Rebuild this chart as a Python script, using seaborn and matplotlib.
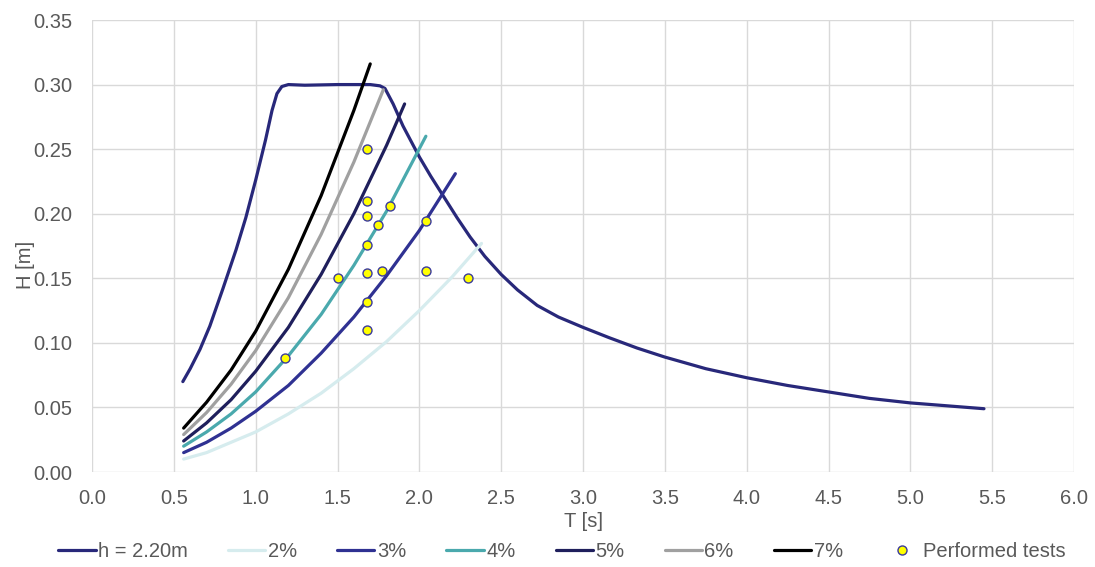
import numpy as np
import pandas as pd
import matplotlib
matplotlib.use("Agg")
import matplotlib.pyplot as plt
import seaborn as sns
from matplotlib.lines import Line2D

# ---------------- data ----------------
env_T = [0.555, 0.60, 0.66, 0.72, 0.80, 0.88, 0.94, 1.00, 1.06, 1.10, 1.13, 1.16, 1.20, 1.30,
         1.50, 1.70, 1.76, 1.79, 1.84, 1.90, 2.00, 2.07, 2.15, 2.23, 2.31, 2.40, 2.50, 2.60,
         2.72, 2.85, 3.00, 3.16, 3.33, 3.50, 3.75, 4.00, 4.25, 4.50, 4.75, 5.00, 5.25, 5.45]
env_H = [0.070, 0.080, 0.095, 0.113, 0.142, 0.172, 0.197, 0.226, 0.257, 0.280, 0.293, 0.2985,
         0.300, 0.2995, 0.300, 0.300, 0.299, 0.297, 0.285, 0.268, 0.244, 0.229, 0.213, 0.197,
         0.182, 0.167, 0.153, 0.141, 0.129, 0.120, 0.112, 0.104, 0.096, 0.089, 0.080, 0.073,
         0.067, 0.062, 0.057, 0.0535, 0.051, 0.049]

s2_T = [0.56, 0.70, 0.85, 1.00, 1.20, 1.40, 1.60, 1.80, 2.00, 2.20, 2.38]
s2_H = [0.010, 0.015, 0.023, 0.031, 0.045, 0.061, 0.080, 0.101, 0.125, 0.151, 0.177]

s3_T = [0.56, 0.70, 0.85, 1.00, 1.20, 1.40, 1.60, 1.80, 2.00, 2.22]
s3_H = [0.015, 0.023, 0.034, 0.047, 0.067, 0.092, 0.120, 0.152, 0.187, 0.231]

s4_T = [0.56, 0.70, 0.85, 1.00, 1.20, 1.40, 1.60, 1.80, 2.04]
s4_H = [0.020, 0.031, 0.045, 0.062, 0.090, 0.122, 0.160, 0.202, 0.260]

s5_T = [0.56, 0.70, 0.85, 1.00, 1.20, 1.40, 1.60, 1.80, 1.91]
s5_H = [0.024, 0.038, 0.056, 0.078, 0.112, 0.153, 0.200, 0.253, 0.285]

s6_T = [0.56, 0.70, 0.85, 1.00, 1.20, 1.40, 1.60, 1.78]
s6_H = [0.029, 0.046, 0.068, 0.094, 0.135, 0.184, 0.240, 0.296]

s7_T = [0.56, 0.70, 0.85, 1.00, 1.20, 1.40, 1.60, 1.70]
s7_H = [0.034, 0.054, 0.079, 0.109, 0.157, 0.214, 0.280, 0.316]

tests_T = [1.68, 1.68, 1.82, 1.68, 1.75, 2.04, 1.68, 1.50, 1.68, 1.77, 2.04, 2.30, 1.68, 1.68, 1.18]
tests_H = [0.250, 0.210, 0.206, 0.198, 0.191, 0.194, 0.176, 0.150, 0.154, 0.156, 0.156, 0.150,
           0.132, 0.110, 0.088]

series_labels = ["h = 2.20m", "2%", "3%", "4%", "5%", "6%", "7%"]
series_colors = ["#28287a", "#d6ecee", "#2f3192", "#4aa9ad", "#1f1f5c", "#a0a0a0", "#000000"]
tests_label = "Performed tests"

x_ticks = [0.0, 0.5, 1.0, 1.5, 2.0, 2.5, 3.0, 3.5, 4.0, 4.5, 5.0, 5.5, 6.0]
y_ticks = [0.00, 0.05, 0.10, 0.15, 0.20, 0.25, 0.30, 0.35]

# ---------------- build long table ----------------
all_T = [env_T, s2_T, s3_T, s4_T, s5_T, s6_T, s7_T]
all_H = [env_H, s2_H, s3_H, s4_H, s5_H, s6_H, s7_H]
frames = []
for lab, t, h in zip(series_labels, all_T, all_H):
    frames.append(pd.DataFrame({"T": t, "H": h, "series": lab}))
df = pd.concat(frames, ignore_index=True)
tests = pd.DataFrame({"T": tests_T, "H": tests_H})

# ---------------- plotting ----------------
sns.set_theme(style="white")
plt.rcParams["font.family"] = ["Liberation Sans", "DejaVu Sans"]
text_color = "#595959"
fs = 14.5

fig = plt.figure(figsize=(10.95, 5.67), dpi=100)
ax = fig.add_axes([92 / 1095, 1 - 472 / 567, (1074 - 92) / 1095, (472 - 20) / 567])

palette = dict(zip(series_labels, series_colors))
for lab in series_labels:
    sub = df[df["series"] == lab]
    sns.lineplot(data=sub, x="T", y="H", color=palette[lab], sort=False, estimator=None,
                 linewidth=2.3, ax=ax, legend=False, solid_capstyle="round",
                 solid_joinstyle="round", zorder=3)

sns.scatterplot(data=tests, x="T", y="H", ax=ax, s=42, color="#ffff00",
                edgecolor="#3a3a9c", linewidth=1.0, zorder=5, legend=False)

ax.set_xlim(0, 6)
ax.set_ylim(0, 0.35)
ax.set_xticks(x_ticks)
ax.set_yticks(y_ticks)
ax.set_xticklabels([f"{v:.1f}" for v in x_ticks])
ax.set_yticklabels([f"{v:.2f}" for v in y_ticks])
ax.grid(True, color="#d9d9d9", linewidth=1.0, zorder=0)
ax.set_axisbelow(True)
for sp in ax.spines.values():
    sp.set_visible(False)
ax.tick_params(axis="both", length=0, labelsize=fs, colors=text_color)
ax.tick_params(axis="x", pad=12)
ax.tick_params(axis="y", pad=14)

ax.set_xlabel("T [s]", fontsize=fs, color=text_color, labelpad=3)
ax.set_ylabel("H [m]", fontsize=fs, color=text_color)
ax.yaxis.set_label_coords(-0.058, 0.458)

handles = [Line2D([0], [0], color=c, linewidth=2.3, solid_capstyle="round")
           for c in series_colors]
handles.append(Line2D([0], [0], linestyle="none", marker="o", markersize=6.5,
                      markerfacecolor="#ffff00", markeredgecolor="#3a3a9c",
                      markeredgewidth=1.0))
labels = series_labels + [tests_label]
leg = fig.legend(handles, labels, loc="center", bbox_to_anchor=(0.513, 0.027), ncol=8,
                 frameon=False, fontsize=fs, handlelength=1.85, handletextpad=0.12,
                 columnspacing=2.0, borderpad=0.0)
for t in leg.get_texts():
    t.set_color(text_color)

fig.savefig("out.png", dpi=100)
